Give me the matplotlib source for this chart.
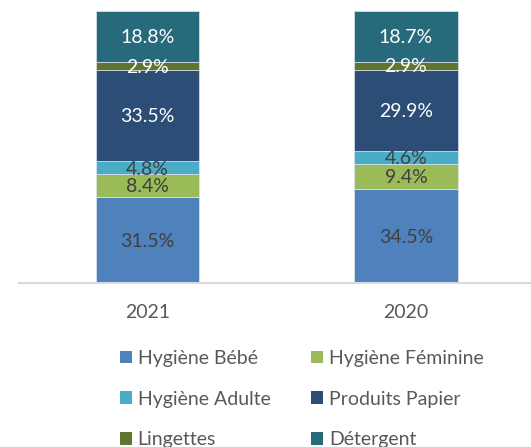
import matplotlib
matplotlib.use("Agg")
import matplotlib.pyplot as plt
from matplotlib.patches import Patch
import numpy as np

years = ["2021", "2020"]
series = ["Hygiène Bébé", "Hygiène Féminine", "Hygiène Adulte", "Produits Papier", "Lingettes", "Détergent"]
bebe = [31.5, 34.5]
feminine = [8.4, 9.4]
adulte = [4.8, 4.6]
papier = [33.5, 29.9]
lingettes = [2.9, 2.9]
detergent = [18.8, 18.7]
values = [bebe, feminine, adulte, papier, lingettes, detergent]
colors = ["#4F81BD", "#9BBB59", "#4BACC6", "#2C4D75", "#5F7530", "#276A7C"]
label_colors = ["#404040", "#404040", "#404040", "white", "white", "white"]

plt.rcParams['font.family'] = ['Lato', 'DejaVu Sans']
FS = 14

fig = plt.figure(figsize=(5.31, 4.47), dpi=100)
ax = fig.add_axes([18.5/531, 164/447, (535-18.5)/531, 272/447])

x = np.arange(len(years))
bottom = np.zeros(len(years))
handles = []
for name, vals, c, lc in zip(series, values, colors, label_colors):
    vals = np.array(vals)
    ax.bar(x, vals, 0.4, bottom=bottom, color=c, edgecolor="#dfe6ef", linewidth=0.5, label=name)
    for xi, b, v in zip(x, bottom, vals):
        ax.text(xi, b + v/2 - 0.4, f"{v:.1f}%", ha="center", va="center", color=lc, fontsize=FS)
    bottom += vals
    handles.append(Patch(facecolor=c, label=name))

ax.set_xlim(-0.5, 1.5)
ax.set_ylim(0, 100)
ax.set_yticks([])
ax.set_xticks(x)
ax.set_xticklabels(years, fontsize=FS, color="#595959")
ax.tick_params(axis="x", length=0, pad=15)
for s in ["top", "left", "right"]:
    ax.spines[s].set_visible(False)
ax.spines["bottom"].set_color("#D9D9D9")
ax.spines["bottom"].set_linewidth(1.5)

order = [0, 2, 4, 1, 3, 5]
leg = fig.legend([handles[i] for i in order], [series[i] for i in order],
                 ncol=2, loc="upper left", bbox_to_anchor=(112/531, 1 - 342/447),
                 frameon=False, fontsize=FS, handlelength=0.62, handleheight=0.62,
                 handletextpad=0.3, columnspacing=2.1, labelspacing=1.22, borderaxespad=0)
for t in leg.get_texts():
    t.set_color("#595959")

fig.savefig("out.png", dpi=100)
